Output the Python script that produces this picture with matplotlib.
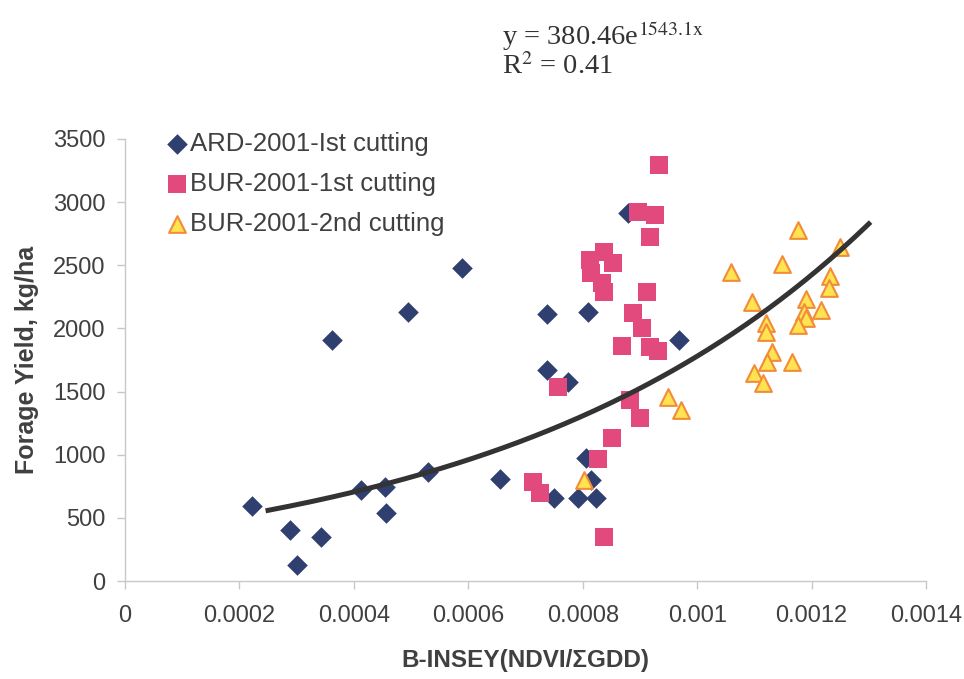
import numpy as np
import matplotlib.pyplot as plt

plt.rcParams['font.family'] = ['Liberation Sans', 'DejaVu Sans']
plt.rcParams['mathtext.fontset'] = 'stix'

# ARD-2001, 1st cutting
ard_x = [0.000222, 0.000288, 0.000342, 0.000301, 0.000412, 0.000454, 0.000457,
         0.000530, 0.000655, 0.000749, 0.000791, 0.000824, 0.000806, 0.000815,
         0.000879, 0.000737, 0.000810, 0.000969, 0.000737, 0.000774, 0.000589,
         0.000494, 0.000361]
ard_y = [594, 404, 351, 127, 721, 747, 541,
         861, 805, 655, 655, 660, 972, 800,
         2912, 2114, 2133, 1908, 1671, 1578, 2476,
         2133, 1908]

# BUR-2001, 1st cutting
bur1_x = [0.000713, 0.000725, 0.000827, 0.000851, 0.000837, 0.000934, 0.000897,
          0.000926, 0.000917, 0.000838, 0.000812, 0.000853, 0.000815, 0.000833,
          0.000838, 0.000912, 0.000888, 0.000904, 0.000869, 0.000917, 0.000932,
          0.000757, 0.000882, 0.000900]
bur1_y = [786, 695, 964, 1130, 351, 3294, 2924,
          2898, 2722, 2608, 2542, 2521, 2437, 2357,
          2291, 2291, 2120, 2001, 1863, 1851, 1824,
          1534, 1433, 1293]

# BUR-2001, 2nd cutting
bur2_x = [0.001176, 0.001249, 0.001060, 0.001149, 0.001233, 0.001231, 0.001096,
          0.001191, 0.001217, 0.001186, 0.001191, 0.001176, 0.001120, 0.001121,
          0.001130, 0.001122, 0.001165, 0.001099, 0.001115, 0.000972, 0.000949,
          0.000803]
bur2_y = [2780, 2647, 2449, 2508, 2415, 2318, 2212,
          2231, 2146, 2133, 2080, 2027, 2041, 1974,
          1816, 1737, 1737, 1645, 1570, 1354, 1455,
          800]

# exponential trendline y = a*exp(b*x)
a, b = 380.46, 1543.1
fit_x = np.linspace(0.00025, 0.0013, 200)
fit_y = a * np.exp(b * fit_x)

fig = plt.figure(figsize=(9.64, 6.79), dpi=100)
ax = fig.add_axes([0.1297, 0.1443, 0.8309, 0.651])

ax.plot(fit_x, fit_y, color='#333333', lw=3.6, zorder=4)
ax.scatter(ard_x, ard_y, marker='D', s=110, color='#2F3F6F', lw=0,
           label='ARD-2001-Ist cutting', zorder=3)
ax.scatter(bur1_x, bur1_y, marker='s', s=165, color='#E2497C', lw=0,
           label='BUR-2001-1st cutting', zorder=3)
ax.scatter(bur2_x, bur2_y, marker='^', s=145, facecolor='#FFE350',
           edgecolor='#F28C3A', lw=1.5, label='BUR-2001-2nd cutting', zorder=3)

ax.set_xlim(0, 0.0014)
ax.set_ylim(0, 3500)
ax.set_xticks(np.arange(0, 0.00141, 0.0002))
ax.set_xticklabels(['0', '0.0002', '0.0004', '0.0006', '0.0008', '0.001', '0.0012', '0.0014'])
ax.set_yticks(np.arange(0, 3501, 500))

for side in ['top', 'right']:
    ax.spines[side].set_visible(False)
for side in ['left', 'bottom']:
    ax.spines[side].set_color('#C8C8C8')
    ax.spines[side].set_linewidth(1.0)
ax.tick_params(axis='both', direction='out', length=6, width=1.0, color='#C8C8C8',
               labelsize=17, labelcolor='#404040', pad=8)
ax.tick_params(axis='x', pad=11)

ax.set_xlabel('B-INSEY(NDVI/ΣGDD)', fontsize=17.5, fontweight='bold', color='#404040', labelpad=16)
ax.set_ylabel('Forage Yield, kg/ha', fontsize=18, fontweight='bold', color='#404040', labelpad=10)

ax.legend(loc='upper left', bbox_to_anchor=(0.035, 1.045), frameon=False, fontsize=18.5,
          handletextpad=0.05, handlelength=0.9, labelspacing=0.62, borderpad=0,
          labelcolor='#404040', scatterpoints=1)

fig.text(0.521, 0.934, r'y = 380.46e$^{\mathrm{1543.1x}}$', fontsize=20.5,
         family='Liberation Serif', color='#333333')
fig.text(0.521, 0.891, r'R$^{\mathrm{2}}$ = 0.41', fontsize=20.5,
         family='Liberation Serif', color='#333333')

fig.savefig('out.png', dpi=100)
